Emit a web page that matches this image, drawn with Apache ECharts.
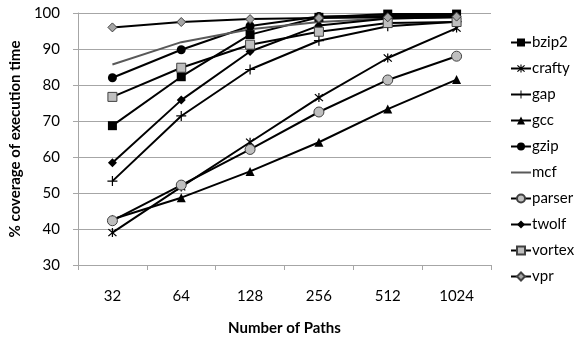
<!DOCTYPE html>
<html><head><meta charset="utf-8">
<script src="https://cdn.jsdelivr.net/npm/echarts@6/dist/echarts.min.js"></script>
<style>html,body{margin:0;padding:0;background:#fff}#c{width:583px;height:341px}</style>
</head><body><div id="c"></div>
<script>
const categories = ['32','64','128','256','512','1024'];
const bzip2  = [68.7, 82.3, 94.0, 98.8, 99.7, 99.7];
const crafty = [39.0, 51.7, 64.1, 76.5, 87.5, 95.8];
const gap    = [53.3, 71.4, 84.3, 92.3, 96.3, 97.6];
const gcc    = [42.7, 48.7, 56.0, 64.1, 73.3, 81.5];
const gzip   = [82.0, 89.8, 96.4, 99.0, 99.2, 99.2];
const mcf    = [85.7, 91.9, 95.5, 97.5, 98.5, 98.8];
const parser = [42.3, 52.2, 62.1, 72.5, 81.4, 88.0];
const twolf  = [58.4, 75.8, 89.3, 96.5, 98.5, 98.8];
const vortex = [76.7, 84.8, 91.2, 94.8, 97.2, 97.5];
const vpr    = [96.0, 97.5, 98.3, 98.6, 98.8, 99.0];
const yTicks = [30, 40, 50, 60, 70, 80, 90, 100];

const FONT = 'Lato';
const asterisk = 'path://M4.4 0L5.6 0L5.6 10L4.4 10Z M0.6 1.5L1.5 0.6L9.4 8.5L8.5 9.4Z M8.5 0.6L9.4 1.5L1.5 9.4L0.6 8.5Z';
const plus = 'path://M4.4 0L5.6 0L5.6 10L4.4 10Z M0 4.4L10 4.4L10 5.6L0 5.6Z';

function mk(name, data, symbol, size, fill, border, lineColor) {
  return {
    name, type: 'line', data,
    symbol: symbol || 'none', symbolSize: size || 0, showSymbol: !!symbol,
    lineStyle: { color: lineColor || '#000', width: 2 },
    itemStyle: { color: fill || '#000', borderColor: border || fill || '#000', borderWidth: border ? 1 : 0 },
    emphasis: { disabled: true },
    animation: false
  };
}

const series = [
  mk('bzip2', bzip2, 'rect', 9, '#000'),
  mk('crafty', crafty, asterisk, 9, '#000'),
  mk('gap', gap, plus, 10, '#000'),
  mk('gcc', gcc, 'triangle', 9, '#000'),
  mk('gzip', gzip, 'circle', 9, '#000'),
  mk('mcf', mcf, null, 0, '#595959', null, '#595959'),
  mk('parser', parser, 'circle', 10, '#bfbfbf', '#404040'),
  mk('twolf', twolf, 'diamond', 9, '#000'),
  mk('vortex', vortex, 'rect', 9, '#bfbfbf', '#404040'),
  mk('vpr', vpr, 'diamond', 9, '#a6a6a6', '#404040')
];

const legendData = series.map(s => s.name === 'mcf'
  ? { name: 'mcf', itemStyle: { color: 'rgba(0,0,0,0)', borderColor: 'rgba(0,0,0,0)', borderWidth: 0, opacity: 0 } }
  : { name: s.name });

const chart = echarts.init(document.getElementById('c'), null, { renderer: 'canvas' });
chart.setOption({
  animation: false,
  textStyle: { fontFamily: FONT },
  grid: { left: 76, right: 92, top: 13, bottom: 74 },
  legend: {
    orient: 'vertical', left: 505, top: 30, itemGap: 11,
    itemWidth: 20, itemHeight: 10,
    textStyle: { fontFamily: FONT, fontSize: 15, color: '#000', padding: [0,0,0,-4] },
    data: legendData
  },
  xAxis: {
    type: 'category', data: categories, boundaryGap: true,
    name: 'Number of Paths', nameLocation: 'middle', nameGap: 56,
    nameTextStyle: { fontFamily: FONT, fontWeight: 'bold', fontSize: 15, color: '#000' },
    axisLine: { lineStyle: { color: '#a6a6a6', width: 1 } },
    axisTick: { show: true, length: 5, lineStyle: { color: '#a6a6a6' } },
    axisLabel: { fontFamily: FONT, fontSize: 15, color: '#000', margin: 24 },
    splitLine: { show: false }
  },
  yAxis: {
    type: 'value', min: 30, max: 100, interval: 10,
    name: '% coverage of execution time', nameLocation: 'middle', nameGap: 50,
    nameTextStyle: { fontFamily: FONT, fontWeight: 'bold', fontSize: 15, color: '#000' },
    axisLine: { show: true, lineStyle: { color: '#a6a6a6', width: 1 } },
    axisTick: { show: true, length: 5, lineStyle: { color: '#a6a6a6' } },
    axisLabel: { fontFamily: FONT, fontSize: 15, color: '#000', margin: 18,
      formatter: v => yTicks.includes(v) ? String(v) : '' },
    splitLine: { show: true, lineStyle: { color: '#a6a6a6', width: 1 } }
  },
  series
});
</script>
</body></html>
